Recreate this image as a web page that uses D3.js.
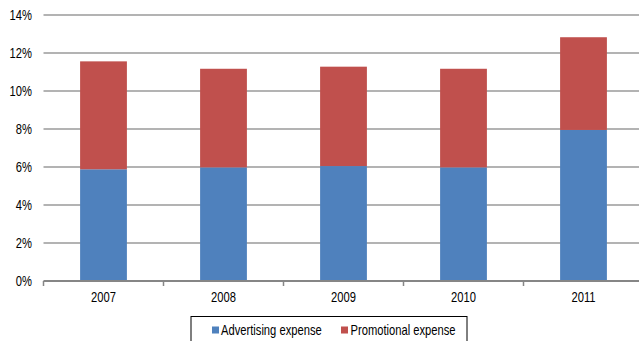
<!DOCTYPE html>
<html>
<head>
<meta charset="utf-8">
<script src="https://cdn.jsdelivr.net/npm/d3@7"></script>
<style>
  html, body { margin: 0; padding: 0; background: #fff; }
  svg { display: block; }
  text { font-family: "Liberation Sans Narrow", "Arial Narrow", "Liberation Sans", Arial, sans-serif; fill: #000; }
</style>
</head>
<body>
<svg id="chart" width="639" height="341"></svg>
<script>
// Expense shares of revenue by year
const years = ["2007", "2008", "2009", "2010", "2011"];
const advertising = [5.88, 5.98, 6.05, 5.98, 7.95];
const promotional = [5.68, 5.19, 5.23, 5.19, 4.88];
const seriesNames = ["Advertising expense", "Promotional expense"];
const seriesColors = ["#4F81BD", "#C0504D"];
const yTicks = [0, 2, 4, 6, 8, 10, 12, 14];

const svg = d3.select("#chart");
const margin = { left: 43.5, top: 15 };
const plotWidth = 600;
const plotBottom = 281;
const FONT_SIZE = 14;
const CONDENSE = 0.8; // horizontal squeeze for a narrow typeface look

const x = d3.scaleBand().domain(years).range([margin.left, margin.left + plotWidth]).paddingInner(0.61).paddingOuter(0.305);
const y = d3.scaleLinear().domain([0, 14]).range([plotBottom, margin.top]);

// Place a condensed label at (px, py)
function label(sel, px, py) {
  return sel
    .attr("x", 0)
    .attr("y", 0)
    .attr("dy", "0.35em")
    .attr("font-size", FONT_SIZE)
    .attr("transform", (d, i) => `translate(${typeof px === "function" ? px(d, i) : px},${typeof py === "function" ? py(d, i) : py}) scale(${CONDENSE},1)`);
}

// Horizontal gridlines
svg.append("g")
  .selectAll("line")
  .data(yTicks.filter(t => t > 0))
  .join("line")
  .attr("x1", margin.left)
  .attr("x2", 639)
  .attr("y1", d => y(d))
  .attr("y2", d => y(d))
  .attr("stroke", "#9a9a9a")
  .attr("stroke-width", 1.5);

// Y tick labels
label(
  svg.append("g").selectAll("text").data(yTicks).join("text"),
  32, d => y(d)
).attr("text-anchor", "end").text(d => d + "%");

// Stacked bars
const rows = years.map((yr, i) => ({ year: yr, advertising: advertising[i], promotional: promotional[i] }));
const stack = d3.stack().keys(["advertising", "promotional"]);
const layers = stack(rows);

svg.append("g")
  .selectAll("g")
  .data(layers)
  .join("g")
  .attr("fill", (d, i) => seriesColors[i])
  .selectAll("rect")
  .data(d => d)
  .join("rect")
  .attr("x", d => x(d.data.year))
  .attr("width", x.bandwidth())
  .attr("y", d => y(d[1]))
  .attr("height", d => y(d[0]) - y(d[1]));

// X axis line and ticks at category boundaries
const xAxis = svg.append("g");
xAxis.append("line")
  .attr("x1", margin.left)
  .attr("x2", 639)
  .attr("y1", plotBottom)
  .attr("y2", plotBottom)
  .attr("stroke", "#868686")
  .attr("stroke-width", 2);

const step = x.step();
xAxis.selectAll("line.tick")
  .data(d3.range(years.length + 1))
  .join("line")
  .attr("class", "tick")
  .attr("x1", i => margin.left + i * step)
  .attr("x2", i => margin.left + i * step)
  .attr("y1", plotBottom)
  .attr("y2", plotBottom + 5)
  .attr("stroke", "#868686")
  .attr("stroke-width", 1.5);

label(
  xAxis.selectAll("text").data(years).join("text"),
  d => x(d) + x.bandwidth() / 2, 297.5
).attr("text-anchor", "middle").text(d => d);

// Legend
const legend = svg.append("g");
legend.append("rect")
  .attr("x", 191)
  .attr("y", 316.5)
  .attr("width", 276)
  .attr("height", 26)
  .attr("fill", "#fff")
  .attr("stroke", "#000")
  .attr("stroke-width", 1);

const legendPos = [{ x: 212, tx: 221 }, { x: 341, tx: 350.5 }];
legend.selectAll("rect.key")
  .data(seriesNames)
  .join("rect")
  .attr("class", "key")
  .attr("x", (d, i) => legendPos[i].x)
  .attr("y", 326.5)
  .attr("width", 7)
  .attr("height", 7)
  .attr("fill", (d, i) => seriesColors[i]);

label(
  legend.selectAll("text").data(seriesNames).join("text"),
  (d, i) => legendPos[i].tx, 330
).text(d => d);
</script>
</body>
</html>
